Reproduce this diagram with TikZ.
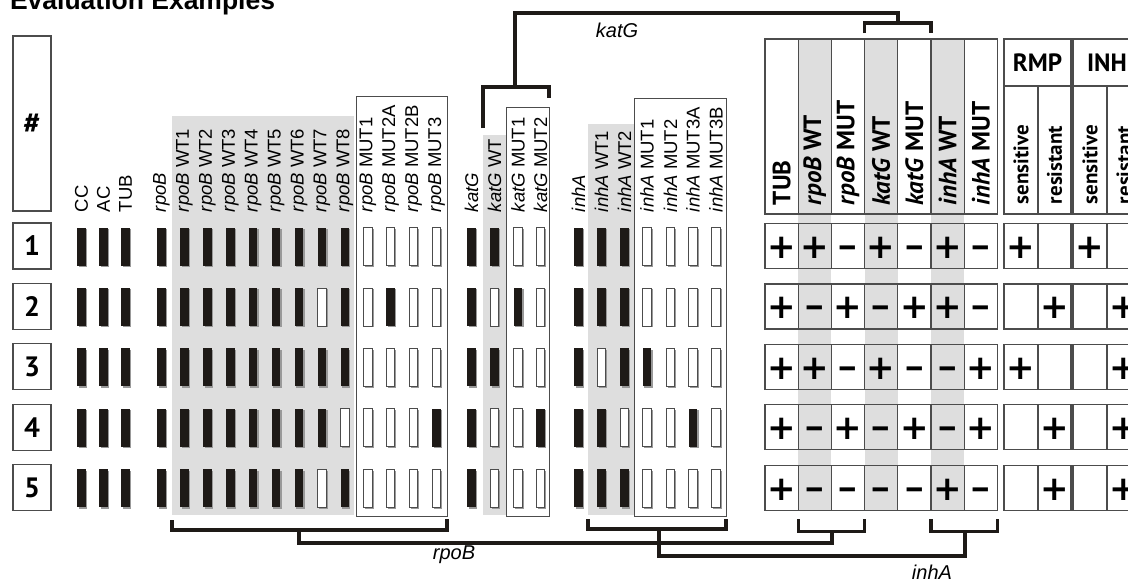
\documentclass[tikz,border=0pt]{standalone}
\usepackage{fontspec}
\setmainfont{Liberation Sans}
\newfontfamily\dinfont{PT Sans}
\newfontfamily\signfont{DejaVu Sans}
\usetikzlibrary{positioning,shadows}

\definecolor{panel}{gray}{0.87}
\definecolor{rule}{gray}{0.3}
\definecolor{ink}{RGB}{30,26,23}
\newcommand{\sgnp}{+}
\newcommand{\sgnm}{\scalebox{0.72}[1]{−}}

\begin{document}
\begin{tikzpicture}[x=1pt, y=-1pt]
\tikzstyle{every node}=[inner sep=0pt, outer sep=0pt]
\tikzstyle{bar}=[rectangle, minimum width=8.5pt, minimum height=38pt,
  drop shadow={shadow xshift=1.4pt, shadow yshift=-1.4pt, fill=gray!80, opacity=1}]
\tikzstyle{barOn}=[bar, fill=ink]
\tikzstyle{barOff}=[bar, fill=white, draw=rule, line width=0.8pt]
\tikzstyle{lbl}=[rotate=90, anchor=west, font=\fontsize{18.5}{18.5}\selectfont]
\tikzstyle{hlbl}=[rotate=90, anchor=west, font=\dinfont\bfseries\fontsize{25}{25}\selectfont]
\tikzstyle{slbl}=[rotate=90, anchor=west, font=\dinfont\bfseries\fontsize{21}{21}\selectfont]
\tikzstyle{box}=[rectangle, draw=rule, line width=1.2pt, anchor=north west]
\tikzstyle{cell}=[box, minimum width=33.2pt, minimum height=45pt,
  font=\signfont\bfseries\fontsize{34}{34}\selectfont, text height=25pt, text depth=0pt]
\tikzstyle{brk}=[draw=ink, line width=3.2pt]
\tikzstyle{blbl}=[font=\itshape\fontsize{20}{20}\selectfont]

\useasboundingbox (0,0) rectangle (1128,579);

\node[anchor=base west, font=\bfseries\fontsize{26.5}{26.5}\selectfont] (title) at (10,9) {Evaluation Examples};

% sample numbers
\node[box, minimum width=38pt, minimum height=175pt, font=\dinfont\bfseries\fontsize{30}{30}\selectfont] (hash) at (13,36) {\#};
\foreach \r in {1,...,5}
  \node[box, minimum width=38pt, minimum height=46pt, font=\dinfont\bfseries\fontsize{28}{28}\selectfont] (n\r) at (13,{223+60.4*(\r-1)}) {\r};

% probe groups
\node[fill=panel, minimum width=182pt, minimum height=399pt, anchor=north west] (rpoWT) at (172,116) {};
\node[box, fill=white, line width=0.9pt, minimum width=91pt, minimum height=420pt] (rpoMUT) at (356,96) {};
\node[fill=panel, minimum width=23pt, minimum height=380pt, anchor=north west] (katWT) at (483,135) {};
\node[box, line width=0.9pt, minimum width=43pt, minimum height=409pt] (katMUT) at (506,107) {};
\node[fill=panel, minimum width=46pt, minimum height=391pt, anchor=north west] (inhWT) at (588,124) {};
\node[box, line width=0.9pt, minimum width=92pt, minimum height=418pt] (inhMUT) at (634,98) {};

% strips
\foreach \x/\t/\p [count=\c] in {
  81.5/CC/{1,1,1,1,1}, 103.5/AC/{1,1,1,1,1}, 125.5/TUB/{1,1,1,1,1},
  161.5/\textit{rpoB}/{1,1,1,1,1},
  184.5/\textit{rpoB} WT1/{1,1,1,1,1}, 207.4/\textit{rpoB} WT2/{1,1,1,1,1},
  230.3/\textit{rpoB} WT3/{1,1,1,1,1}, 253.2/\textit{rpoB} WT4/{1,1,1,1,1},
  276.1/\textit{rpoB} WT5/{1,1,1,1,1}, 299/\textit{rpoB} WT6/{1,1,1,1,1},
  321.9/\textit{rpoB} WT7/{1,0,1,1,0}, 344.8/\textit{rpoB} WT8/{1,1,1,0,1},
  368/\textit{rpoB} MUT1/{0,0,0,0,0}, 390.5/\textit{rpoB} MUT2A/{0,1,0,0,0},
  413.5/\textit{rpoB} MUT2B/{0,0,0,0,0}, 436.5/\textit{rpoB} MUT3/{0,0,0,1,0},
  471.5/\textit{katG}/{1,1,1,1,1}, 494.5/\textit{katG} WT/{1,0,1,0,0},
  518/\textit{katG} MUT1/{0,1,0,0,0}, 540.5/\textit{katG} MUT2/{0,0,0,1,0},
  578.5/\textit{inhA}/{1,1,1,1,1}, 601.5/\textit{inhA} WT1/{1,1,0,1,1},
  624.5/\textit{inhA} WT2/{1,1,1,0,1},
  647/\textit{inhA} MUT1/{0,0,1,0,0}, 670.5/\textit{inhA} MUT2/{0,0,0,0,0},
  693/\textit{inhA} MUT3A/{0,0,0,1,0}, 716/\textit{inhA} MUT3B/{0,0,0,0,0}} {
  \node[lbl] (l\c) at (\x,212) {\t};
  \foreach \v [count=\r] in \p {
    \ifnum\v=1
      \node[barOn] (b\c-\r) at (\x,{246.5+60.4*(\r-1)}) {};
    \else
      \node[barOff] (b\c-\r) at (\x,{246.5+60.4*(\r-1)}) {};
    \fi
  }
}

% result table
\foreach \i in {2,4,6}
  \fill[panel] ({765+33.2*(\i-1)},39) rectangle ++(33.2,471);
\foreach \t [count=\i] in {TUB, \textit{rpoB} WT, \textit{rpoB} MUT, \textit{katG} WT,
  \textit{katG} MUT, \textit{inhA} WT, \textit{inhA} MUT} {
  \node[box, minimum width=33.2pt, minimum height=175pt] (h\i) at ({765+33.2*(\i-1)},39) {};
  \node[hlbl] at ([yshift=9pt]h\i.south) {\t};
}
\foreach \s [count=\r] in {
  {\sgnp,\sgnp,\sgnm,\sgnp,\sgnm,\sgnp,\sgnm},
  {\sgnp,\sgnm,\sgnp,\sgnm,\sgnp,\sgnp,\sgnm},
  {\sgnp,\sgnp,\sgnm,\sgnp,\sgnm,\sgnm,\sgnp},
  {\sgnp,\sgnm,\sgnp,\sgnm,\sgnp,\sgnm,\sgnp},
  {\sgnp,\sgnm,\sgnm,\sgnm,\sgnm,\sgnp,\sgnm}}
  \foreach \v [count=\i] in \s
    \node[cell] (c\r-\i) at ({765+33.2*(\i-1)},{223.5+60.4*(\r-1)}) {\v};

% drug columns
\node[box, minimum width=67pt, minimum height=47pt, font=\dinfont\bfseries\fontsize{25}{25}\selectfont] (rmp) at (1004,39) {RMP};
\node[box, minimum width=34pt, minimum height=128pt] (rmpS) at (1004,86) {};
\node[box, minimum width=33pt, minimum height=128pt] (rmpR) at (1038,86) {};
\node[box, minimum width=68pt, minimum height=47pt, font=\dinfont\bfseries\fontsize{25}{25}\selectfont] (inh) at (1073,39) {INH};
\node[box, minimum width=34pt, minimum height=128pt] (inhS) at (1073,86) {};
\node[box, minimum width=34pt, minimum height=128pt] (inhR) at (1107,86) {};
\foreach \n/\t in {rmpS/sensitive, rmpR/resistant, inhS/sensitive, inhR/resistant}
  \node[slbl] at ([yshift=10pt]\n.south) {\t};
\foreach \a/\b/\c/\d [count=\r] in {\sgnp/{}/\sgnp/{}, {}/\sgnp/{}/\sgnp,
  \sgnp/{}/{}/\sgnp, {}/\sgnp/{}/\sgnp, {}/\sgnp/{}/\sgnp} {
  \node[cell, minimum width=34pt] (rs\r) at (1004,{223.5+60.4*(\r-1)}) {\a};
  \node[cell, minimum width=33pt] (rr\r) at (1038,{223.5+60.4*(\r-1)}) {\b};
  \node[cell, minimum width=34pt] (is\r) at (1073,{223.5+60.4*(\r-1)}) {\c};
  \node[cell, minimum width=34pt] (ir\r) at (1107,{223.5+60.4*(\r-1)}) {\d};
}

% brackets
\draw[brk] ([yshift=-5pt]rpoWT.south west) -- ++(0,10) -| ([yshift=-3pt]rpoMUT.south east);
\draw[brk] ([yshift=-4pt]inhWT.south west) -- ++(0,10) -| ([yshift=-3pt]inhMUT.south east);
\draw[brk] ([yshift=7pt]katWT.north west) -- ++(0,-41) -| ([yshift=9pt]katMUT.north east);
\draw[brk] ([yshift=-9pt]c5-2.south west) -- ++(0,12) -| ([yshift=-9pt]c5-3.south east);
\draw[brk] ([yshift=-9pt]c5-6.south west) -- ++(0,12) -| ([yshift=-9pt]c5-7.south east);
\draw[brk] ([yshift=6pt]h4.north west) -- ++(0,-10) -| ([yshift=6pt]h5.north east);
\coordinate (rpoBa) at (299,530);
\coordinate (rpoBb) at (832,531);
\coordinate (inhAa) at (659,529);
\coordinate (inhAb) at (965,531);
\coordinate (katGa) at (515,87);
\coordinate (katGb) at (898,23);
\draw[brk] (rpoBa) -- ++(0,13) -| (rpoBb);
\draw[brk] (inhAa) -- ++(0,27) -| (inhAb);
\draw[brk] (katGa) -- ++(0,-74) -| (katGb);
\node[blbl] (katGlbl) at (617,30) {katG};
\node[blbl] (rpoBlbl) at (454,555) {rpoB};
\node[blbl] (inhAlbl) at (932,572) {inhA};
\end{tikzpicture}
\end{document}
